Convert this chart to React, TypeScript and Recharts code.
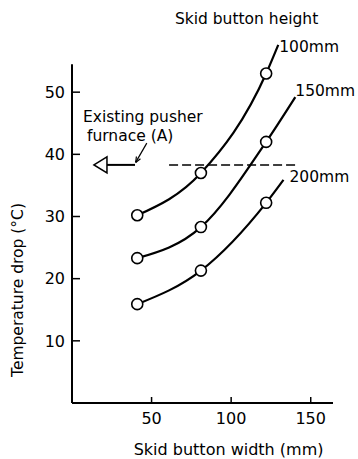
import React from 'react';
import {
  ComposedChart,
  Line,
  Scatter,
  XAxis,
  YAxis,
  ReferenceLine,
  ReferenceDot,
} from 'recharts';

// ---- data ----
const buttonWidths = [41, 81, 122]; // skid button width (mm) of measured points
const drop100 = [30.2, 37.0, 53.0];
const drop150 = [23.3, 28.3, 42.0];
const drop200 = [15.9, 21.3, 32.2];
const curveEnd100 = [129.6, 57.6];
const curveEnd150 = [140.3, 49.2];
const curveEnd200 = [132.9, 35.9];
const seriesLabels = ['100mm', '150mm', '200mm'];
const xTicks = [50, 100, 150];
const yTicks = [10, 20, 30, 40, 50];
const furnaceDrop = 38.3; // existing pusher furnace (A)
const dashedRange = [61, 141];
const arrowRange = [13.8, 22, 39.6];
const pointerFrom = [47, 41.8];
const titlePos = [109.7, 61.8];

const FONT = '"DejaVu Sans", sans-serif';

const measured = (drops: number[]) => buttonWidths.map((x, i) => ({ x, y: drops[i] }));
const curve = (drops: number[], end: number[]) => [...measured(drops), { x: end[0], y: end[1] }];

const pts100 = measured(drop100);
const pts150 = measured(drop150);
const pts200 = measured(drop200);
const line100 = curve(drop100, curveEnd100);
const line150 = curve(drop150, curveEnd150);
const line200 = curve(drop200, curveEnd200);

const circleShape = (p: any) => (
  <circle cx={p.cx} cy={p.cy} r={5.5} fill="#fff" stroke="#000" strokeWidth={1.6} />
);

const textAt = (
  key: string,
  x: number,
  y: number,
  text: string,
  dx: number,
  dy: number,
  anchor: 'start' | 'middle' | 'end' = 'start',
) => (
  <ReferenceDot
    key={key}
    x={x}
    y={y}
    r={0}
    ifOverflow="visible"
    stroke="none"
    fill="none"
    label={{
      content: (props: any) => {
        const vb = props.viewBox || {};
        const cx = (vb.x ?? 0) + (vb.width ?? 0) / 2;
        const cy = (vb.y ?? 0) + (vb.height ?? 0) / 2;
        return (
          <text
            x={cx + dx}
            y={cy + dy}
            textAnchor={anchor}
            dominantBaseline="central"
            fontFamily={FONT}
            fontSize={15.5}
            fill="#000"
          >
            {text}
          </text>
        );
      },
    }}
  />
);

export default function App() {
  return (
    <div style={{ position: 'absolute', left: 0, top: 0, background: '#fff' }}>
      <ComposedChart
        width={358}
        height={459}
        margin={{ top: 30, right: 25, bottom: 26, left: 0 }}
      >
        <XAxis
          type="number"
          dataKey="x"
          domain={[0, 164]}
          ticks={xTicks}
          allowDataOverflow
          height={30}
          axisLine={{ stroke: '#000', strokeWidth: 2 }}
          tickLine={{ stroke: '#000', strokeWidth: 1.5 }}
          tickSize={-6}
          tickMargin={16}
          tick={{ fill: '#000', fontSize: 16, fontFamily: FONT }}
          label={{
            content: (props: any) => {
              const vb = props.viewBox;
              return (
                <text
                  x={vb.x + vb.width * 0.6}
                  y={vb.y + 46}
                  textAnchor="middle"
                  dominantBaseline="central"
                  fontFamily={FONT}
                  fontSize={16}
                  fill="#000"
                >
                  Skid button width (mm)
                </text>
              );
            },
          }}
        />
        <YAxis
          type="number"
          domain={[0, 60]}
          ticks={yTicks}
          allowDataOverflow
          width={72}
          axisLine={false}
          tickLine={{ stroke: '#000', strokeWidth: 1.5 }}
          tickSize={-8}
          tickMargin={15}
          tick={{ fill: '#000', fontSize: 16, fontFamily: FONT }}
          label={{
            content: (props: any) => {
              const vb = props.viewBox;
              const x = vb.x + 18;
              const y = vb.y + vb.height * 0.697;
              return (
                <text
                  x={x}
                  y={y}
                  transform={`rotate(-90, ${x}, ${y})`}
                  textAnchor="middle"
                  dominantBaseline="central"
                  fontFamily={FONT}
                  fontSize={15.5}
                  fill="#000"
                >
                  Temperature drop (°C)
                </text>
              );
            },
          }}
        />
        {/* y axis line (shorter than the plot area) */}
        <ReferenceLine
          segment={[{ x: 0, y: 0 }, { x: 0, y: 54.5 }]}
          stroke="#000"
          strokeWidth={2}
          ifOverflow="visible"
        />
        {/* existing furnace level */}
        <ReferenceLine
          segment={[{ x: dashedRange[0], y: furnaceDrop }, { x: dashedRange[1], y: furnaceDrop }]}
          stroke="#000"
          strokeWidth={1.5}
          strokeDasharray="9 4"
        />
        <ReferenceLine
          segment={[{ x: arrowRange[1], y: furnaceDrop }, { x: arrowRange[2], y: furnaceDrop }]}
          stroke="#000"
          strokeWidth={2}
        />
        <ReferenceDot
          x={arrowRange[0]}
          y={furnaceDrop}
          r={1}
          shape={(p: any) => (
            <polygon
              points={`${p.cx},${p.cy} ${p.cx + 13},${p.cy - 8} ${p.cx + 13},${p.cy + 8}`}
              fill="#fff"
              stroke="#000"
              strokeWidth={1.5}
            />
          )}
        />
        <ReferenceLine
          segment={[{ x: pointerFrom[0], y: pointerFrom[1] }, { x: arrowRange[2] + 0.4, y: furnaceDrop + 0.4 }]}
          shape={(p: any) => {
            const { x1, y1, x2, y2 } = p;
            const ang = Math.atan2(y2 - y1, x2 - x1);
            const len = 6;
            const a1 = ang + Math.PI - 0.4;
            const a2 = ang + Math.PI + 0.4;
            return (
              <g>
                <line x1={x1} y1={y1} x2={x2} y2={y2} stroke="#000" strokeWidth={1.2} />
                <line x1={x2} y1={y2} x2={x2 + len * Math.cos(a1)} y2={y2 + len * Math.sin(a1)} stroke="#000" strokeWidth={1.2} />
                <line x1={x2} y1={y2} x2={x2 + len * Math.cos(a2)} y2={y2 + len * Math.sin(a2)} stroke="#000" strokeWidth={1.2} />
              </g>
            );
          }}
        />

        <Line data={line100} dataKey="y" type="monotone" stroke="#000" strokeWidth={2.2} dot={false} activeDot={false} isAnimationActive={false} />
        <Line data={line150} dataKey="y" type="monotone" stroke="#000" strokeWidth={2.2} dot={false} activeDot={false} isAnimationActive={false} />
        <Line data={line200} dataKey="y" type="monotone" stroke="#000" strokeWidth={2.2} dot={false} activeDot={false} isAnimationActive={false} />
        <Scatter data={pts100} dataKey="y" shape={circleShape} isAnimationActive={false} />
        <Scatter data={pts150} dataKey="y" shape={circleShape} isAnimationActive={false} />
        <Scatter data={pts200} dataKey="y" shape={circleShape} isAnimationActive={false} />

        {textAt('l100', curveEnd100[0], curveEnd100[1], seriesLabels[0], 1, 2)}
        {textAt('l150', curveEnd150[0], curveEnd150[1], seriesLabels[1], 0, -6)}
        {textAt('l200', curveEnd200[0], curveEnd200[1], seriesLabels[2], 6, -3)}
        {textAt('title', titlePos[0], titlePos[1], 'Skid button height', 0, 0, 'middle')}
        {textAt('f1', arrowRange[0], furnaceDrop, 'Existing pusher', -11, -48)}
        {textAt('f2', arrowRange[0], furnaceDrop, 'furnace (A)', -7, -29)}
      </ComposedChart>
    </div>
  );
}
